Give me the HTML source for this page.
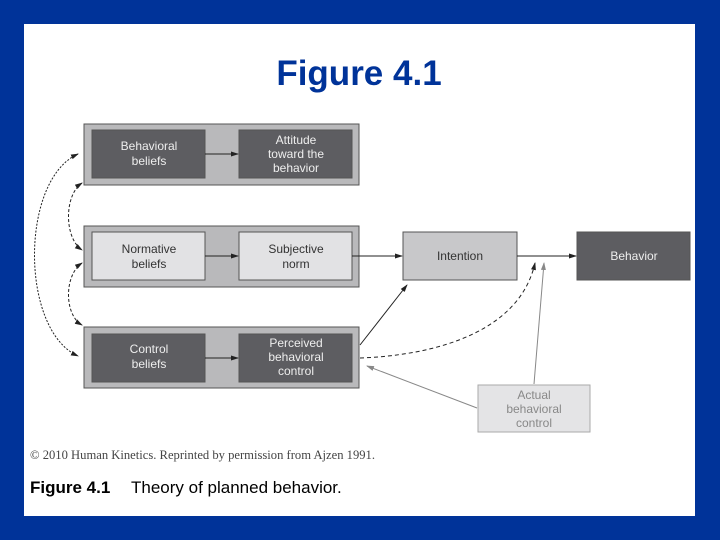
<!DOCTYPE html>
<html><head><style>
html,body{margin:0;padding:0}
body{width:720px;height:540px;background:#003399;position:relative;overflow:hidden;font-family:"Liberation Sans",sans-serif}
#p{position:absolute;left:24px;top:24px;width:671px;height:492px;background:#fff}
</style></head><body>
<div id="p"></div>
<svg width="720" height="540" style="position:absolute;left:0;top:0" font-family="Liberation Sans, sans-serif">
<defs><marker id="a" markerWidth="8" markerHeight="6" refX="7" refY="3" orient="auto" markerUnits="userSpaceOnUse"><path d="M0,0.5L8,3L0,5.5z" fill="#222"/></marker>
<marker id="s" markerWidth="8" markerHeight="6" refX="1" refY="3" orient="auto" markerUnits="userSpaceOnUse"><path d="M8,0.5L0,3L8,5.5z" fill="#222"/></marker>
<marker id="g" markerWidth="8" markerHeight="6" refX="7" refY="3" orient="auto" markerUnits="userSpaceOnUse"><path d="M0,0.5L8,3L0,5.5z" fill="#888"/></marker></defs>
<text x="359" y="85" text-anchor="middle" font-size="35" font-weight="bold" fill="#003399">Figure 4.1</text>
<g stroke="#555" stroke-width="1">
<rect x="84" y="124" width="275" height="61" fill="#b9b9bb"/>
<rect x="84" y="226" width="275" height="61" fill="#b9b9bb"/>
<rect x="84" y="327" width="275" height="61" fill="#b9b9bb"/>
<rect x="92" y="130" width="113" height="48" fill="#5d5d61"/>
<rect x="239" y="130" width="113" height="48" fill="#5d5d61"/>
<rect x="92" y="232" width="113" height="48" fill="#e2e2e4"/>
<rect x="239" y="232" width="113" height="48" fill="#e2e2e4"/>
<rect x="92" y="334" width="113" height="48" fill="#5d5d61"/>
<rect x="239" y="334" width="113" height="48" fill="#5d5d61"/>
<rect x="403" y="232" width="114" height="48" fill="#c8c8ca"/>
<rect x="577" y="232" width="113" height="48" fill="#5d5d61"/>
<rect x="478" y="385" width="112" height="47" fill="#e4e4e6" stroke="#aaa"/>
</g>
<g font-size="12" text-anchor="middle">
<g fill="#eee"><text x="149" y="150">Behavioral</text><text x="149" y="165">beliefs</text>
<text x="296" y="144">Attitude</text><text x="296" y="158">toward the</text><text x="296" y="172">behavior</text>
<text x="149" y="353">Control</text><text x="149" y="368">beliefs</text>
<text x="296" y="347">Perceived</text><text x="296" y="361">behavioral</text><text x="296" y="375">control</text>
<text x="634" y="260">Behavior</text></g>
<g fill="#333"><text x="149" y="253">Normative</text><text x="149" y="268">beliefs</text>
<text x="296" y="253">Subjective</text><text x="296" y="268">norm</text>
<text x="460" y="260">Intention</text></g>
<g fill="#888"><text x="534" y="399">Actual</text><text x="534" y="413">behavioral</text><text x="534" y="427">control</text></g>
</g>
<g stroke="#222" stroke-width="1" fill="none" marker-end="url(#a)">
<line x1="205" y1="154" x2="238" y2="154"/>
<line x1="205" y1="256" x2="238" y2="256"/>
<line x1="205" y1="358" x2="238" y2="358"/>
<line x1="352" y1="256" x2="402" y2="256"/>
<line x1="517" y1="256" x2="576" y2="256"/>
<line x1="360" y1="345" x2="407" y2="285"/>
<path d="M360,358 C440,355 520,330 535,263" stroke-dasharray="4,3"/>
<path d="M78,154 C20,180 20,330 78,356" stroke-dasharray="2,1.5" marker-start="url(#s)"/>
<path d="M82,183 C64,195 64,238 82,250" stroke-dasharray="3,2" marker-start="url(#s)"/>
<path d="M82,263 C64,275 64,315 82,325" stroke-dasharray="3,2" marker-start="url(#s)"/>
</g>
<g stroke="#888" stroke-width="1" marker-end="url(#g)">
<line x1="534" y1="384" x2="544" y2="263"/>
<line x1="477" y1="408" x2="367" y2="366"/>
</g>
<text x="30" y="459" font-family="Liberation Serif, serif" font-size="12.6" fill="#444">© 2010 Human Kinetics. Reprinted by permission from Ajzen 1991.</text>
<text x="30" y="493" font-size="17" fill="#000"><tspan font-weight="bold">Figure 4.1</tspan><tspan x="131">Theory of planned behavior.</tspan></text>
</svg>
</body></html>
